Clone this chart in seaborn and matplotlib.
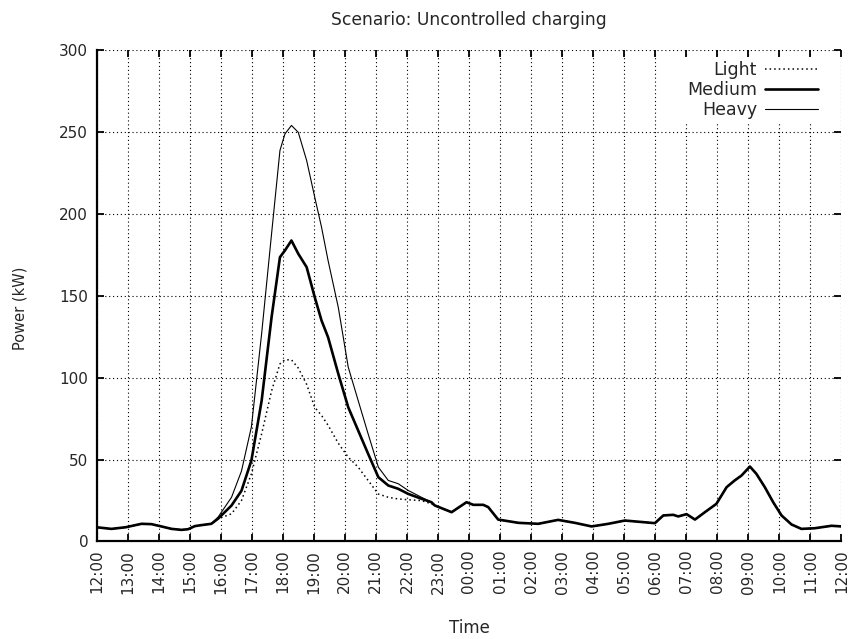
import matplotlib
matplotlib.use("Agg")
import matplotlib.pyplot as plt
import seaborn as sns
import numpy as np

# ---- data (hours after 12:00, power in kW) ----
common_pre_h = [0.0, 0.48, 0.94, 1.45, 1.77, 2.09, 2.42, 2.74, 2.95, 3.17, 3.38, 3.70]
common_pre_v = [8.7, 7.7, 8.7, 10.8, 10.6, 9.2, 7.7, 7.1, 7.5, 9.4, 10.0, 10.8]

evening_h = [3.92, 4.35, 4.67, 4.99, 5.32, 5.64, 5.91, 6.07, 6.28, 6.50, 6.77, 7.03,
             7.25, 7.46, 7.79, 8.11, 8.43, 8.75, 9.08, 9.40, 9.72, 10.04, 10.47, 10.79]
light_eve = [13.9, 16.9, 25, 41.3, 65.8, 92, 108.5, 111, 111, 106, 96, 82,
             77, 71, 60, 51.5, 45.4, 37.3, 29, 27, 26, 25.5, 25, 23]
medium_eve = [14.0, 22, 31, 49.5, 86, 137, 173.7, 177.8, 183.9, 175.8, 167.6, 149.3,
              135, 124.8, 102.4, 82, 67.8, 53.6, 39.3, 34.2, 32.2, 29.1, 26.1, 24]
heavy_eve = [15, 27, 43, 70, 127, 188, 238.9, 249, 254.2, 250, 232.8, 210.4,
             192, 171.7, 143, 106.5, 86.1, 65.8, 45.4, 37.3, 35.3, 31.2, 27, 24]

common_post_h = [10.90, 11.44, 11.92, 12.14, 12.46, 12.62, 12.94, 13.59, 14.23, 14.87,
                 15.41, 15.95, 16.49, 17.02, 17.99, 18.26, 18.58, 18.74, 19.01, 19.28,
                 19.60, 19.97, 20.30, 20.56, 20.78, 21.05, 21.26, 21.53, 21.80, 22.07,
                 22.39, 22.71, 23.14, 23.68, 24.0]
common_post_v = [22, 17.9, 24, 22.4, 22.4, 21, 13.4, 11.4, 10.8, 13.2,
                 11.4, 9.2, 10.8, 12.8, 11.2, 15.9, 16.3, 15.3, 16.7, 13.4,
                 17.9, 23, 33.2, 37.3, 40.3, 45.8, 41.3, 33.2, 24, 15.9,
                 10.4, 7.7, 8.1, 9.6, 9.2]

tick_labels = ["12:00", "13:00", "14:00", "15:00", "16:00", "17:00", "18:00", "19:00",
               "20:00", "21:00", "22:00", "23:00", "00:00", "01:00", "02:00", "03:00",
               "04:00", "05:00", "06:00", "07:00", "08:00", "09:00", "10:00", "11:00", "12:00"]
y_ticks = [0, 50, 100, 150, 200, 250, 300]

series_names = ["Light", "Medium", "Heavy"]
series_eve = [light_eve, medium_eve, heavy_eve]

sns.set_style("white")
plt.rcParams["font.family"] = ["DejaVu Sans"]

fig = plt.figure(figsize=(8.51, 6.39), dpi=100)
ax = fig.add_axes([0.1134, 0.1526, 0.8754, 0.7684])

styles = {"Light": dict(lw=1.1, ls=(0, (1, 2))),
          "Medium": dict(lw=1.9, ls="-"),
          "Heavy": dict(lw=0.8, ls="-")}

for name, eve in zip(series_names, series_eve):
    x = np.array(common_pre_h + evening_h + common_post_h)
    y = np.array(common_pre_v + eve + common_post_v)
    sns.lineplot(x=x, y=y, ax=ax, color="black", label=name,
                 linewidth=styles[name]["lw"], linestyle=styles[name]["ls"],
                 estimator=None, sort=False)

ax.set_xlim(0, 24)
ax.set_ylim(0, 300)
ax.set_xticks(np.arange(len(tick_labels)))
ax.set_xticklabels(tick_labels, rotation=90, fontsize=11)
ax.set_yticks(y_ticks)
ax.set_yticklabels([str(v) for v in y_ticks], fontsize=11)

ax.grid(True, color="black", linestyle=(0, (1, 2.5)), linewidth=0.8)
for s in ["top", "right"]:
    ax.spines[s].set_visible(False)
for s in ["left", "bottom"]:
    ax.spines[s].set_linewidth(1.6)
    ax.spines[s].set_color("black")
ax.tick_params(direction="in", length=5, width=1.3, color="black",
               top=True, right=True, bottom=True, left=True, pad=6)

ax.set_xlabel("Time", fontsize=12, labelpad=18)
ax.set_ylabel("Power (kW)", fontsize=10.5)
ax.yaxis.set_label_coords(-0.0925, 0.4756)
ax.set_title("Scenario: Uncontrolled charging", fontsize=12.3, pad=18.5)

leg = ax.legend(loc="upper right", bbox_to_anchor=(0.973, 0.9858), frameon=True,
                markerfirst=False, fontsize=12.5, handlelength=3.05, handletextpad=0.46,
                labelspacing=0.12, borderpad=0.2, borderaxespad=0)
leg.get_frame().set_facecolor("white")
leg.get_frame().set_edgecolor("none")
leg.get_frame().set_alpha(1.0)
leg.get_frame().set_boxstyle("square", pad=0)

fig.savefig("out.png", dpi=100, facecolor="white")
